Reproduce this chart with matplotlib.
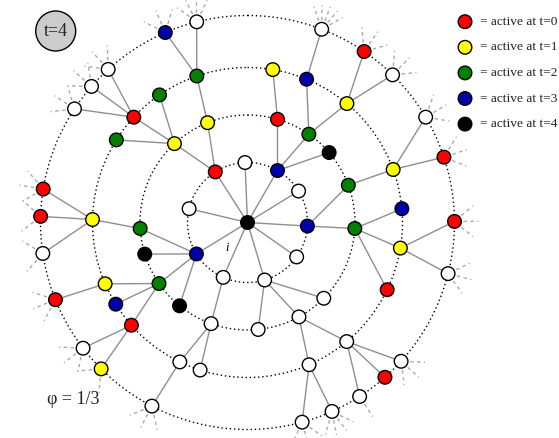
import numpy as np
import matplotlib
matplotlib.use("Agg")
import matplotlib.pyplot as plt
from matplotlib.patches import Circle

# ---------------- data ----------------
ring_radii = [0, 60, 107.5, 155, 207]          # ring radii (px)
center_xy = (247.5, 222.5)

# node ring index, angle (deg, ccw from +x), activation time (-1 = inactive), parent index
node_ring = [0] + [1]*10 + [2]*15 + [3]*19 + [4]*24
node_angle = [0,
    122.5, 92.4, 60.0, 31.6, -3.4, -35.0, -73.4, -113.9, -148.4, 166.7,
    132.8, 111.8, 73.8, 55.2, 40.6, 20.3, -3.2, -44.8, -61.4, -84.3, -109.8, -129.2, -145.4, -162.9, -176.8,
    124.6, 137.2, 147.8, 109.1, 80.6, 67.6, 50.1, 20.0, 5.1, -9.5, -25.7, -50.2, -66.6, -107.8, -115.9,
    -138.5, -148.2, -156.7, 178.9,
    104.2, 113.4, 132.3, 138.9, 146.7, 170.7, 178.3, -171.4, -158.1, -142.6, -135.0, -117.5,
    -74.7, -65.9, -57.2, -48.4, -42.1, -14.3, 0.3, 18.4, 30.6, 45.5, 55.7, 69.0]
node_time = [4,
    0, -1, 3, -1, 3, -1, -1, -1, 3, -1,
    1, 1, 0, 2, 4, 2, 2, -1, -1, -1, -1, 4, 2, 4, 2,
    2, 0, 2, 2, 1, 3, 1, 1, 3, 1, 0, -1, -1, -1, -1, 0, 3, 1, 1,
    -1, 3, -1, -1, -1, 0, 0, -1, 0, -1, 1, -1, -1, -1, -1, 0, -1, -1, 0, 0, -1, -1, 0, -1]
node_parent = [-1,
    0, 0, 0, 0, 0, 0, 0, 0, 0, 0,
    1, 1, 3, 3, 3, 5, 5, 7, 7, 7, 8, 9, 9, 9, 9,
    11, 11, 11, 12, 13, 14, 14, 16, 17, 17, 17, 19, 19, 21, 21, 23, 23, 23, 25,
    29, 29, 27, 27, 27, 44, 44, 44, 43, 41, 41, 40, 38, 38, 37, 37, 37, 35, 35, 33, 33, 32, 32, 31]
# number of dashed "continuation" stubs on each outer-ring node (nodes 45..68)
outer_stubs = [4, 3, 3, 3, 3, 3, 2, 2, 3, 3, 2, 3, 3, 4, 1, 0, 3, 3, 3, 3, 3, 3, 3, 5]

legend_times = [0, 1, 2, 3, 4]
legend_labels = ["= active at t=0", "= active at t=1", "= active at t=2",
                 "= active at t=3", "= active at t=4"]
time_colors = {-1: "#ffffff", 0: "#ff0000", 1: "#ffff00", 2: "#008200", 3: "#0000aa", 4: "#000000"}

# ---------------- figure ----------------
fig = plt.figure(figsize=(5.59, 4.38), dpi=100)
ax = fig.add_axes([0, 0, 1, 1])
ax.set_xlim(0, 559)
ax.set_ylim(438, 0)
ax.axis("off")

cx, cy = center_xy
def pos(i):
    r = ring_radii[node_ring[i]]
    a = np.deg2rad(node_angle[i])
    return cx + r*np.cos(a), cy - r*np.sin(a)

xy = [pos(i) for i in range(len(node_ring))]

# dotted rings
for r in ring_radii[1:]:
    ax.add_patch(Circle((cx, cy), r, fill=False, ec="black", lw=1.0,
                        ls=(0, (1, 2.0)), zorder=1))

# edges
for i, p in enumerate(node_parent):
    if p >= 0:
        ax.plot([xy[i][0], xy[p][0]], [xy[i][1], xy[p][1]], color="#8f8f8f",
                lw=1.0, zorder=2, solid_capstyle="butt")

# stubs on outer ring nodes
outer_idx = [i for i in range(len(node_ring)) if node_ring[i] == 4]
for i, n in zip(outer_idx, outer_stubs):
    if n == 0:
        continue
    base = np.deg2rad(node_angle[i])
    offs = [0.0] if n == 1 else np.linspace(-40, 40, n)
    x0, y0 = xy[i]
    for o in offs:
        a = base + np.deg2rad(o)
        ax.plot([x0 + 9*np.cos(a), x0 + 24*np.cos(a)],
                [y0 - 9*np.sin(a), y0 - 24*np.sin(a)],
                color="#aaaaaa", lw=1.0, ls=(0, (2.5, 2.5)), zorder=2)

# nodes
node_r = 6.8
for i in range(len(node_ring)):
    ax.add_patch(Circle(xy[i], node_r, fc=time_colors[node_time[i]], ec="black",
                        lw=1.0, zorder=3))

# label i
ax.text(227, 248, "i", fontsize=9, family="Liberation Serif", style="italic",
        ha="center", va="center", zorder=4)

# legend
for k, (t, lab) in enumerate(zip(legend_times, legend_labels)):
    ly = 21.7 + k*25.6
    ax.add_patch(Circle((465, ly), node_r, fc=time_colors[t], ec="black", lw=1.0, zorder=3))
    ax.text(479.5, ly, lab, fontsize=9.6, family="Liberation Serif",
            ha="left", va="center", color="#222222")

# time badge
ax.add_patch(Circle((55.7, 31), 20, fc="#cccccc", ec="black", lw=1.0, zorder=3))
ax.text(55.7, 31.5, "t=4", fontsize=12.9, family="Liberation Serif",
        ha="center", va="center", zorder=4, color="#222222")

# phi label
ax.text(73.5, 400, "\u03c6 = 1/3", fontsize=12.9, family="Liberation Serif",
        ha="center", va="center", color="#222222")

fig.savefig("out.png", dpi=100)
